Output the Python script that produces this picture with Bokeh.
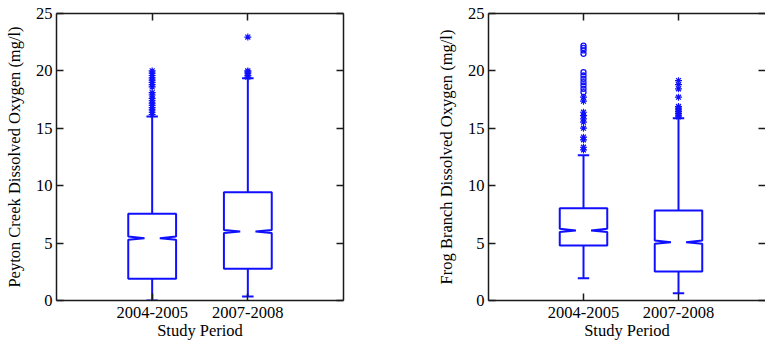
from bokeh.plotting import figure
from bokeh.layouts import row
from bokeh.models import LinearAxis, FixedTicker, Range1d
from bokeh.embed import file_html
from bokeh.resources import INLINE

# ---------------- data ----------------
periods = ["2004-2005", "2007-2008"]
y_ticks = [0, 5, 10, 15, 20, 25]

# Peyton Creek dissolved oxygen (mg/l)
peyton_low = [0.0, 0.35]
peyton_q1 = [1.89, 2.76]
peyton_median = [5.43, 6.01]
peyton_q3 = [7.55, 9.44]
peyton_high = [16.03, 19.35]
peyton_out_0405 = [16.2, 16.4, 16.6, 16.8, 17.0, 17.2, 17.4, 17.6, 17.9, 18.1,
                   18.6, 18.8, 19.0, 19.2, 19.4, 19.6, 19.8, 20.0]
peyton_out_0708 = [19.45, 19.6, 19.75, 19.9, 20.0, 22.95]

# Frog Branch dissolved oxygen (mg/l)
frog_low = [1.94, 0.64]
frog_q1 = [4.79, 2.53]
frog_median = [6.10, 5.08]
frog_q3 = [8.04, 7.84]
frog_high = [12.66, 15.88]
frog_out_0405 = [13.12, 13.35, 14.0, 14.23, 15.01, 15.53, 15.82, 16.11, 16.4,
                 17.36, 17.71]
frog_ring_0405 = [18.15, 18.44, 18.73, 19.02, 19.31, 19.6, 19.89,
                  21.49, 21.78, 22.0, 22.2]
frog_out_0708 = [16.0, 16.15, 16.3, 16.45, 16.6, 16.75, 16.9, 17.71, 18.44,
                 18.8, 19.15]

# ---------------- style ----------------
BLUE = "#1010ff"
AXC = "#1a1a1a"
FONT = "'Liberation Serif'"
FS = "16.5px"
HW = 0.25      # box half width (x units)
INSET = 0.17   # notch depth
ND = 0.14      # notch half height (y units)
CAP = 0.06     # whisker cap half width


def style_axis(ax, ticks, show_labels, line=True):
    ax.ticker = FixedTicker(ticks=ticks)
    ax.major_tick_in = 7
    ax.major_tick_out = 0
    ax.major_tick_line_color = AXC
    ax.major_tick_line_width = 1.5
    ax.minor_tick_line_color = None
    ax.axis_line_color = AXC if line else None
    ax.axis_line_width = 1.5
    ax.major_label_text_font = FONT
    if show_labels:
        ax.major_label_text_font_size = FS
        ax.major_label_text_color = "black"
    else:
        ax.major_label_text_font_size = "1px"
        ax.major_label_text_color = None
        ax.major_label_standoff = 0


def make_panel(ylabel, low, q1, med, q3, high, outs, rings, left_border,
               frame_w, xmax, right_line=True):
    p = figure(frame_width=frame_w, frame_height=287,
               x_range=Range1d(0, xmax), y_range=Range1d(0, 25),
               min_border_left=left_border, min_border_right=0,
               min_border_top=13, min_border_bottom=44,
               output_backend="svg", toolbar_location=None)
    p.outline_line_color = None
    p.grid.visible = False
    p.background_fill_color = None
    p.border_fill_color = None

    xpos = [i + 1 for i in range(len(periods))]

    # axes
    style_axis(p.xaxis[0], xpos, True)
    p.xaxis[0].major_label_overrides = {x: n for x, n in zip(xpos, periods)}
    p.xaxis[0].major_label_standoff = 6
    p.xaxis[0].axis_label = "Study Period"
    p.xaxis[0].axis_label_standoff = 0
    p.xaxis[0].axis_label_text_font = FONT
    p.xaxis[0].axis_label_text_font_size = FS
    p.xaxis[0].axis_label_text_font_style = "normal"
    p.xaxis[0].axis_label_text_color = "black"

    style_axis(p.yaxis[0], y_ticks, True)
    p.yaxis[0].major_label_standoff = 4
    p.yaxis[0].axis_label = ylabel
    p.yaxis[0].axis_label_standoff = 9
    p.yaxis[0].axis_label_text_font = FONT
    p.yaxis[0].axis_label_text_font_size = FS
    p.yaxis[0].axis_label_text_font_style = "normal"
    p.yaxis[0].axis_label_text_color = "black"

    top = LinearAxis()
    style_axis(top, xpos, False)
    p.add_layout(top, "above")
    right = LinearAxis()
    style_axis(right, y_ticks, False, line=right_line)
    p.add_layout(right, "right")

    # notched boxes
    xs, ys = [], []
    for x, a, m, b in zip(xpos, q1, med, q3):
        xs.append([x - HW, x - HW, x - HW + INSET, x - HW, x - HW,
                   x + HW, x + HW, x + HW - INSET, x + HW, x + HW])
        ys.append([a, m - ND, m, m + ND, b, b, m + ND, m, m - ND, a])
    p.patches(xs, ys, fill_color=None, line_color=BLUE, line_width=2)

    # whiskers
    p.segment(xpos, q3, xpos, high, line_color=BLUE, line_width=2)
    p.segment(xpos, q1, xpos, low, line_color=BLUE, line_width=2)
    x0 = [x - CAP for x in xpos]
    x1 = [x + CAP for x in xpos]
    p.segment(x0, high, x1, high, line_color=BLUE, line_width=2)
    p.segment(x0, low, x1, low, line_color=BLUE, line_width=2)

    # outliers
    for x, vals in zip(xpos, outs):
        p.scatter([x] * len(vals), vals, marker="asterisk", size=7,
                  line_color=BLUE, line_width=1.2)
    for x, vals in zip(xpos, rings):
        if vals:
            p.scatter([x] * len(vals), vals, marker="circle", size=5,
                      fill_color=None, line_color=BLUE, line_width=1.3)
    return p


p1 = make_panel("Peyton Creek Dissolved Oxygen (mg/l)",
                peyton_low, peyton_q1, peyton_median, peyton_q3, peyton_high,
                [peyton_out_0405, peyton_out_0708], [[], []],
                left_border=56, frame_w=287, xmax=3)
p1.min_border_right = 57

p2 = make_panel("Frog Branch Dissolved Oxygen (mg/l)",
                frog_low, frog_q1, frog_median, frog_q3, frog_high,
                [frog_out_0405, frog_out_0708], [frog_ring_0405, []],
                left_border=88, frame_w=277, xmax=277 / 95, right_line=False)

layout = row(p1, p2, spacing=0)
open("out.html", "w").write(file_html(layout, INLINE))
